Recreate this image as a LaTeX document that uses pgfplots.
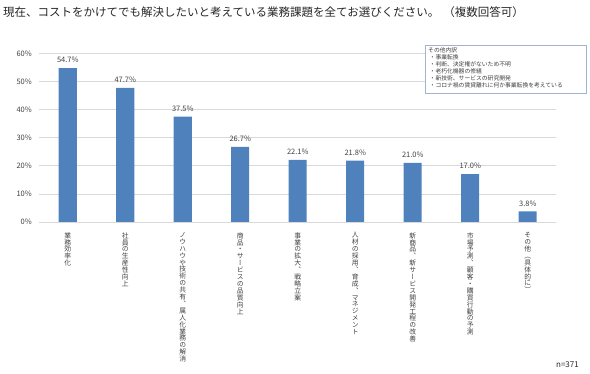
\documentclass[border=0pt]{standalone}
\usepackage{pgfplots}
\pgfplotsset{compat=1.18}
\usepackage{fontspec}
\setmainfont{Noto Sans CJK JP}
\newfontfamily\vfont[RawFeature=+vert]{Noto Sans CJK JP}
\definecolor{barblue}{RGB}{79,129,189}
\definecolor{txt}{RGB}{64,64,64}
\definecolor{boxc}{RGB}{160,180,210}
\ExplSyntaxOn
\cs_new:Npn \vt_char:n #1 {\hbox_to_wd:nn{1em}{\hss #1\hss}}
\NewDocumentCommand\vtext{m}{\vtop{\baselineskip=6.9bp\lineskiplimit=-\maxdimen\lineskip=0pt \tl_map_function:nN{#1}\vt_char:n}}
\ExplSyntaxOff
\begin{document}
\begin{tikzpicture}
\useasboundingbox (0,0) rectangle (590bp,374bp);
\node[anchor=west, inner sep=0pt, font=\fontsize{11.5bp}{13bp}\selectfont, text=black!85] at (3bp,362bp) {現在、コストをかけてでも解決したいと考えている業務課題を全てお選びください。\hspace{4bp}（複数回答可）};
\begin{axis}[
  at={(39bp,152bp)}, anchor=south west,
  scale only axis, width=517.5bp, height=168.7bp,
  xmin=-0.5, xmax=8.5, ymin=0, ymax=60,
  ytick={0,10,...,60},
  yticklabel={\pgfmathprintnumber{\tick}\%},
  /pgf/number format/assume math mode=true,
  xtick=data,
  xticklabels={{\vtext{業務効率化}},{\vtext{社員の生産性向上}},{\vtext{ノウハウや技術の共有、属人化業務の解消}},{\vtext{商品・サービスの品質向上}},{\vtext{事業の拡大、戦略立案}},{\vtext{人材の採用、育成、マネジメント}},{\vtext{新商品、新サービス開発工程の改善}},{\vtext{市場予測、顧客・購買行動の予測}},{\vtext{その他（具体的に）}}},
  axis line style={draw=none}, tick style={draw=none},
  ymajorgrids, major grid style={draw=black!15, line width=0.75bp},
  yticklabel style={anchor=east, inner sep=0pt, xshift=-7bp, font=\fontsize{7.5bp}{9bp}\selectfont, text=txt},
  xticklabel style={anchor=north, inner sep=0pt, yshift=-6bp, font=\vfont\fontsize{6.8bp}{6.9bp}\selectfont, text=txt},
  ybar, bar width=18bp,
  nodes near coords={\pgfmathprintnumber[fixed,fixed zerofill,precision=1]{\pgfplotspointmeta}\%},
  nodes near coords style={font=\fontsize{7.5bp}{9bp}\selectfont, text=txt, anchor=south, inner sep=0pt, yshift=5bp},
]
\addplot[fill=barblue, draw=none] coordinates {(0,54.7) (1,47.7) (2,37.5) (3,26.7) (4,22.1) (5,21.8) (6,21.0) (7,17.0) (8,3.8)};
\end{axis}
\draw[draw=boxc, fill=white, line width=0.6bp] (425bp,281bp) rectangle (586bp,329bp);
\node[anchor=north west, inner sep=0pt, align=left, font=\fontsize{5.8bp}{7bp}\selectfont, text=txt] at (428bp,326.5bp) {その他内訳\\\hspace{1.5bp}・事業転換\\\hspace{1.5bp}・判断、決定権がないため不明\\\hspace{1.5bp}・老朽化機器の修繕\\\hspace{1.5bp}・新技術、サービスの研究開発\\\hspace{1.5bp}・コロナ禍の賃貸離れに何か事業転換を考えている};
\node[anchor=east, inner sep=0pt, font=\fontsize{8bp}{9bp}\selectfont, text=black!85] at (579bp,9bp) {n=371};
\end{tikzpicture}
\end{document}
